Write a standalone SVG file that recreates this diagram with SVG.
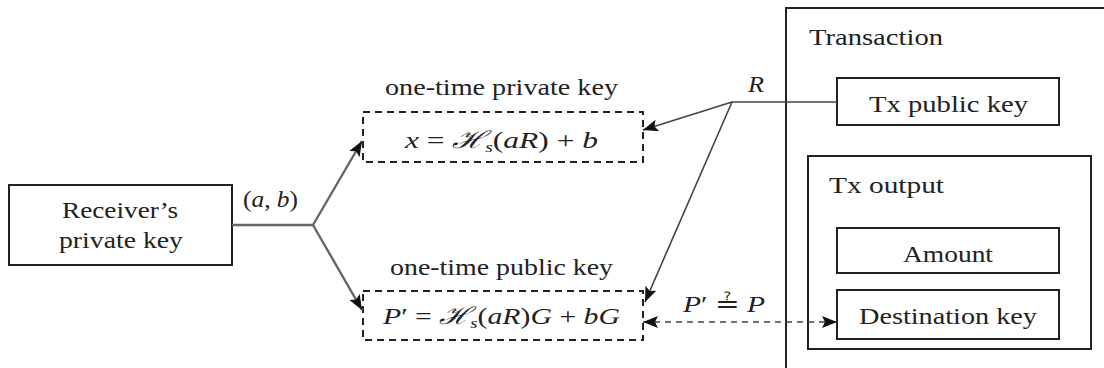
<svg xmlns="http://www.w3.org/2000/svg" width="1104" height="368" viewBox="0 0 1104 368">
<style>
text{font-family:"Liberation Serif","DejaVu Serif",serif;font-size:24px;fill:#222}
.it{font-style:italic}
.sub{font-size:15px;font-style:italic}
.box{fill:none;stroke:#222;stroke-width:2}
.dbox{fill:none;stroke:#222;stroke-width:2;stroke-dasharray:7 5}
.gl{fill:none;stroke:#666;stroke-width:2.4}
.rl{fill:none;stroke:#444;stroke-width:1.6}
.dl{fill:none;stroke:#444;stroke-width:1.6;stroke-dasharray:6 5}
</style>
<defs>
<marker id="ah" markerUnits="userSpaceOnUse" markerWidth="16" markerHeight="12" refX="15" refY="6" orient="auto-start-reverse">
<path d="M0,0 L15,6 L0,12 L3,6 z" fill="#111"/>
</marker>
</defs>
<rect width="1104" height="368" fill="#fff"/>

<g id="transaction">
<path class="box" d="M1110,8 H786 V375"/>
<text x="809" y="45" textLength="134" lengthAdjust="spacingAndGlyphs">Transaction</text>
</g>
<g id="tx-public-key">
<rect class="box" x="837" y="78" width="222" height="47"/>
<text x="869" y="112" textLength="159" lengthAdjust="spacingAndGlyphs">Tx public key</text>
</g>
<g id="tx-output">
<rect class="box" x="808" y="156" width="283" height="193"/>
<text x="829" y="193" textLength="115" lengthAdjust="spacingAndGlyphs">Tx output</text>
</g>
<g id="amount">
<rect class="box" x="837" y="228" width="222" height="45"/>
<text x="903" y="262" textLength="90" lengthAdjust="spacingAndGlyphs">Amount</text>
</g>
<g id="destination-key">
<rect class="box" x="837" y="290" width="222" height="49"/>
<text x="859" y="324" textLength="178" lengthAdjust="spacingAndGlyphs">Destination key</text>
</g>

<g id="receiver">
<rect class="box" x="9" y="185" width="223" height="80"/>
<text x="62" y="218" textLength="116" lengthAdjust="spacingAndGlyphs">Receiver’s</text>
<text x="59" y="248" textLength="124" lengthAdjust="spacingAndGlyphs">private key</text>
</g>

<g id="one-time-private-key">
<text x="385" y="95" textLength="233" lengthAdjust="spacingAndGlyphs">one-time private key</text>
<rect class="dbox" x="363" y="112" width="280" height="50"/>
<text x="405" y="148" textLength="193" lengthAdjust="spacingAndGlyphs"><tspan class="it">x</tspan> = <tspan class="it">ℋ</tspan><tspan class="sub" dy="4">s</tspan><tspan dy="-4">(</tspan><tspan class="it">aR</tspan>) + <tspan class="it">b</tspan></text>
</g>

<g id="one-time-public-key">
<text x="390" y="275" textLength="223" lengthAdjust="spacingAndGlyphs">one-time public key</text>
<rect class="dbox" x="363" y="291" width="280" height="49"/>
<text x="383" y="324" textLength="237" lengthAdjust="spacingAndGlyphs"><tspan class="it">P</tspan>′ = <tspan class="it">ℋ</tspan><tspan class="sub" dy="4">s</tspan><tspan dy="-4">(</tspan><tspan class="it">aR</tspan>)<tspan class="it">G</tspan> + <tspan class="it">bG</tspan></text>
</g>

<g id="connectors">
<path class="gl" d="M232,225 H313"/>
<path class="gl" d="M313,225 L362,141" marker-end="url(#ah)"/>
<path class="gl" d="M313,225 L362,310" marker-end="url(#ah)"/>
<path class="rl" d="M837,102 H732"/>
<path class="rl" d="M732,102 L643,130" marker-end="url(#ah)"/>
<path class="rl" d="M732,102 L645,302" marker-end="url(#ah)"/>
<path class="dl" d="M643,322 H837" marker-start="url(#ah)" marker-end="url(#ah)"/>
<text x="243" y="207" textLength="55" lengthAdjust="spacingAndGlyphs">(<tspan class="it">a</tspan>, <tspan class="it">b</tspan>)</text>
<text class="it" x="748" y="92" textLength="16" lengthAdjust="spacingAndGlyphs">R</text>
<text x="683" y="312" textLength="82" lengthAdjust="spacingAndGlyphs"><tspan class="it">P</tspan>′ ≟ <tspan class="it">P</tspan></text>
</g>
</svg>
